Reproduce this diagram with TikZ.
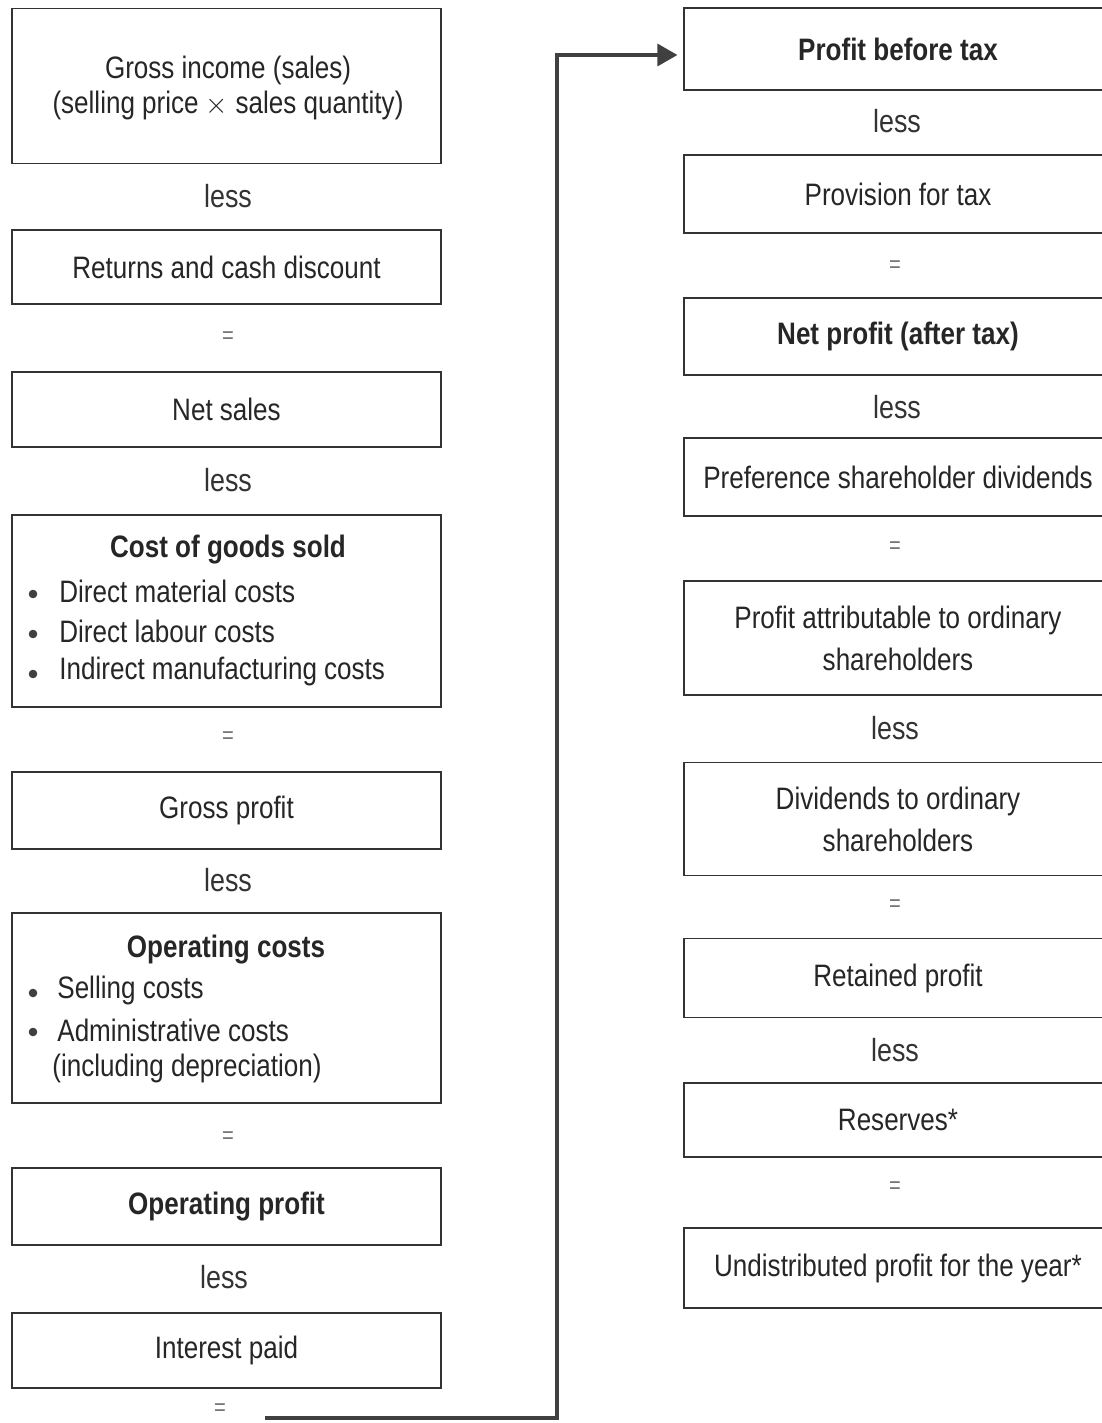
\documentclass[tikz,border=0pt]{standalone}
\usepackage{fontspec}
\setmainfont{Liberation Sans}[FakeStretch=0.84]
\usetikzlibrary{arrows.meta}
\begin{document}
\begin{tikzpicture}[x=0.5pt,y=-0.5pt,
  box/.style={draw=black!80, line width=0.6pt, inner sep=0pt, align=center,
    font=\fontsize{15.5}{17.5}\selectfont, text=black!85},
  lbox/.style={box, minimum width=214.5pt},
  rbox/.style={box, minimum width=214pt},
  word/.style={font=\fontsize{16}{17}\selectfont, text=black!80, inner sep=0pt},
  eq/.style={font=\fontsize{12}{13}\selectfont, text=black!55, inner sep=0pt},
  item/.style={font=\fontsize{15.5}{17}\selectfont, text=black!85, inner sep=0pt, anchor=west},
  dot/.style={circle, fill=black!75, inner sep=0pt, minimum size=4.3pt},
  conn/.style={line width=1.6pt, draw=black!75, -{Triangle[length=10pt,width=11pt]}}
]
\useasboundingbox (0,0) rectangle (1102,1423);
\fill[white] (0,0) rectangle (1102,1423);

% ---------- left column ----------
\node[lbox, minimum height=77.5pt] (gross) at (226.5,86) {};
\node[box, draw=none] (grosst) at (228,88)
  {Gross income (sales)\\(selling price $\times$ sales quantity)};
\node[word] (l1) at (228,196) {less};
\node[lbox, minimum height=37pt] (returns) at (226.5,267) {Returns and cash discount};
\node[eq] (e1) at (228,338) {=};
\node[lbox, minimum height=37.5pt] (netsales) at (226.5,409.5) {Net sales};
\node[word] (l2) at (228,480) {less};
\node[lbox, minimum height=96pt] (cogs) at (226.5,611) {};
\node[box, draw=none, font=\fontsize{15.5}{17}\bfseries] (cogst) at (228,550) {Cost of goods sold};
\node[dot] (cb1) at (33,594) {};
\node[item] (ci1) at (59,591) {Direct material costs};
\node[dot] (cb2) at (33,634) {};
\node[item] (ci2) at (59,631) {Direct labour costs};
\node[dot] (cb3) at (33,674) {};
\node[item] (ci3) at (59,671) {Indirect manufacturing costs};
\node[eq] (e2) at (228,738) {=};
\node[lbox, minimum height=38.5pt] (grossprofit) at (226.5,810.5) {Gross profit};
\node[word] (l3) at (228,880) {less};
\node[lbox, minimum height=95pt] (opcosts) at (226.5,1008) {};
\node[box, draw=none, font=\fontsize{15.5}{17}\bfseries] (opct) at (226,950) {Operating costs};
\node[dot] (ob1) at (33,993) {};
\node[item] (oi1) at (57,990) {Selling costs};
\node[dot] (ob2) at (33,1032) {};
\node[item] (oi2) at (57,1030) {Administrative costs};
\node[item] (oi3) at (52,1068) {(including depreciation)};
\node[eq] (e3) at (228,1138) {=};
\node[lbox, minimum height=38.5pt, font=\fontsize{15.5}{17}\bfseries] (opprofit) at (226.5,1206.5) {Operating profit};
\node[word] (l4) at (224,1277) {less};
\node[lbox, minimum height=37.5pt] (interest) at (226.5,1350.5) {Interest paid};
\node[eq] (e4) at (220,1410) {=};

% ---------- right column ----------
\node[rbox, minimum height=41pt, font=\fontsize{15.5}{17}\bfseries] (pbt) at (898,49) {Profit before tax};
\node[word] (r1) at (897,121) {less};
\node[rbox, minimum height=39pt] (prov) at (898,194) {Provision for tax};
\node[eq] (f1) at (895,267) {=};
\node[rbox, minimum height=38.5pt, font=\fontsize{15.5}{17}\bfseries] (np) at (898,336.5) {Net profit (after tax)};
\node[word] (r2) at (897,407) {less};
\node[rbox, minimum height=39pt] (pref) at (898,477) {Preference shareholder dividends};
\node[eq] (f2) at (895,548) {=};
\node[rbox, minimum height=57pt, font=\fontsize{15.5}{21}\selectfont] (attr) at (898,638) {Profit attributable to ordinary\\shareholders};
\node[word] (r3) at (895,728) {less};
\node[rbox, minimum height=56.5pt, font=\fontsize{15.5}{21}\selectfont] (divord) at (898,819) {Dividends to ordinary\\shareholders};
\node[eq] (f3) at (895,906) {=};
\node[rbox, minimum height=39.5pt] (ret) at (898,978) {Retained profit};
\node[word] (r4) at (895,1050) {less};
\node[rbox, minimum height=37pt] (res) at (898,1120) {Reserves*};
\node[eq] (f4) at (895,1188) {=};
\node[rbox, minimum height=40pt] (undist) at (898,1268) {Undistributed profit for the year*};

% ---------- connector ----------
\coordinate (cstart) at (265,1418);
\coordinate (cturn) at (557,1418);
\draw[conn, shorten >=3pt] (cstart) -- (cturn) |- ([yshift=-3pt]pbt.west);
\end{tikzpicture}
\end{document}
